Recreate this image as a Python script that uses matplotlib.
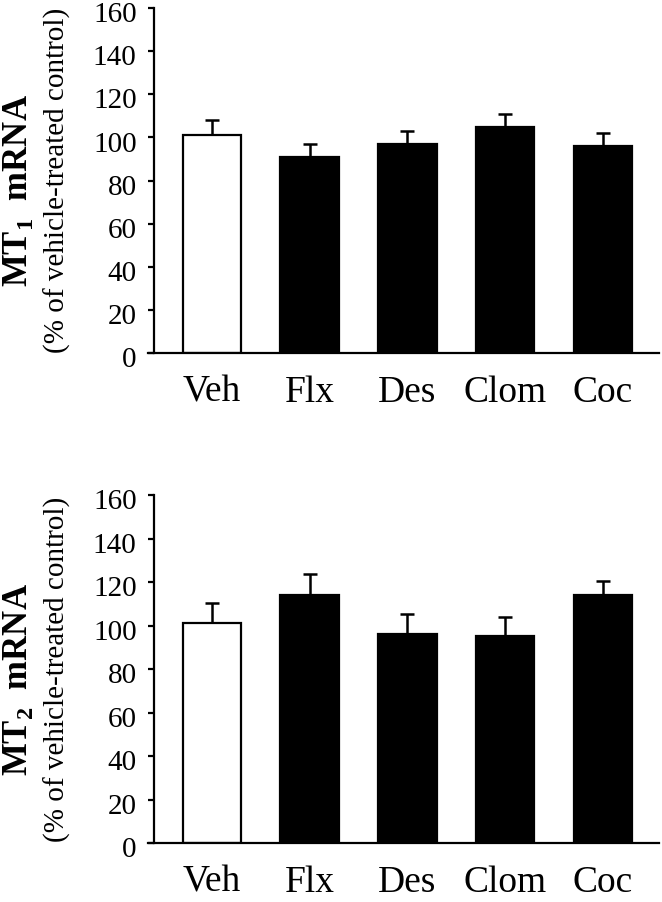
import matplotlib
matplotlib.use("Agg")
import matplotlib.pyplot as plt
import matplotlib.transforms as mtransforms

plt.rcParams["font.family"] = ["Liberation Serif", "DejaVu Serif"]
plt.rcParams["mathtext.fontset"] = "custom"
plt.rcParams["mathtext.rm"] = "Liberation Serif"
plt.rcParams["mathtext.bf"] = "Liberation Serif:bold"

# data
groups = ["Veh", "Flx", "Des", "Clom", "Coc"]
mt1_mean = [101, 91, 97, 105, 96]
mt1_sem = [7, 6, 6, 6, 6]
mt2_mean = [101, 114, 96, 95, 114]
mt2_sem = [9.5, 9.5, 9.5, 9, 6.5]
bar_colors = ["white", "black", "black", "black", "black"]
yticks = [0, 20, 40, 60, 80, 100, 120, 140, 160]

fig = plt.figure(figsize=(6.62, 9.02), dpi=100)
ax_top = fig.add_axes([0.2326, 0.6086, 0.7628, 0.3825])
ax_bot = fig.add_axes([0.2326, 0.0654, 0.7628, 0.3858])


def draw_panel(ax, means, sems, sub):
    x = list(range(len(groups)))
    ax.bar(x, means, width=0.6, color=bar_colors, edgecolor="black",
           linewidth=1.6, zorder=2)
    ax.errorbar(x, means, yerr=[[0] * len(sems), sems], fmt="none",
                ecolor="black", elinewidth=1.8, capsize=5, capthick=1.8,
                zorder=1)
    ax.set_xlim(-0.595, 4.574)
    ax.set_ylim(0, 160)
    ax.set_yticks(yticks)
    ax.set_xticks(x)
    ax.set_xticklabels(groups, fontsize=27)
    ax.tick_params(axis="x", length=0, pad=16)
    ax.tick_params(axis="y", direction="out", length=4.5, width=1.6,
                   labelsize=21, pad=8)
    # the y numbers sit a little below their ticks in the original
    shift = mtransforms.ScaledTranslation(0, -3 / 72, fig.dpi_scale_trans)
    for lab in ax.get_yticklabels():
        lab.set_transform(lab.get_transform() + shift)
    for side in ("top", "right"):
        ax.spines[side].set_visible(False)
    ax.spines["left"].set_linewidth(1.6)
    ax.spines["bottom"].set_linewidth(1.6)
    ax.spines["bottom"].set_bounds(-0.655, 4.574)
    # bold title line, baseline placed just left of the subtitle
    ax.text(-0.252, 0.47, "MT$_\\mathbf{%s}$  mRNA" % sub, transform=ax.transAxes,
            rotation=90, rotation_mode="anchor", ha="center", va="baseline",
            fontsize=25, fontweight="bold")
    ax.text(-0.192, 0.5, "(% of vehicle-treated control)",
            transform=ax.transAxes, rotation=90, ha="center", va="center",
            fontsize=21)


draw_panel(ax_top, mt1_mean, mt1_sem, "1")
draw_panel(ax_bot, mt2_mean, mt2_sem, "2")

fig.savefig("out.png", dpi=100)
